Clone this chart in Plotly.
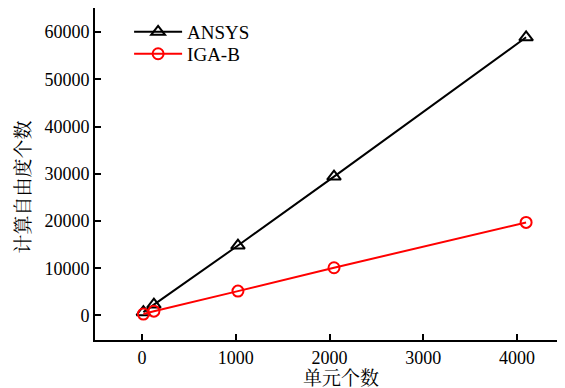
import plotly.graph_objects as go

elements = [16, 128, 1024, 2048, 4096]
ansys_dof = [700, 2300, 14800, 29400, 58900]
igab_dof = [300, 900, 5150, 10100, 19700]

x_ticks = [0, 1000, 2000, 3000, 4000]
y_ticks = [0, 10000, 20000, 30000, 40000, 50000, 60000]

serif = "Liberation Serif, Times New Roman, serif"
cjk = "Liberation Serif, Noto Serif CJK SC, Noto Sans CJK SC, serif"

fig = go.Figure()
fig.add_trace(go.Scatter(
    x=elements, y=ansys_dof, name="ANSYS", mode="lines+markers",
    line=dict(color="black", width=2),
    marker=dict(symbol="triangle-up-open", size=12, color="black", line=dict(width=2)),
    legend="legend",
))
fig.add_trace(go.Scatter(
    x=elements, y=igab_dof, name="IGA-B", mode="lines+markers",
    line=dict(color="#ff0000", width=2),
    marker=dict(symbol="circle-open", size=11, color="#ff0000", line=dict(width=2)),
    legend="legend2",
))

leg_common = dict(xanchor="left", yanchor="top", bgcolor="rgba(0,0,0,0)",
                  font=dict(size=19, family=serif), itemwidth=48)

fig.update_layout(
    width=557, height=380,
    margin=dict(l=87, r=1, t=0, b=48, autoexpand=False),
    paper_bgcolor="white", plot_bgcolor="white",
    font=dict(family=serif, size=18, color="black"),
    showlegend=True,
    legend=dict(x=0.0727, y=0.985, **leg_common),
    legend2=dict(x=0.0727, y=0.919, **leg_common),
    annotations=[
        dict(text="单元个数", xref="paper", yref="paper", x=0.5245, y=-0.1145,
             xanchor="center", yanchor="middle", showarrow=False,
             font=dict(family=cjk, size=19)),
        dict(text="计算自由度个数", xref="paper", yref="paper", x=-0.1525, y=0.461,
             xanchor="center", yanchor="middle", showarrow=False, textangle=-90,
             font=dict(family=cjk, size=19)),
    ],
)
fig.update_xaxes(
    range=[-500, 4500], tickvals=x_ticks, ticktext=[str(v) for v in x_ticks],
    ticks="inside", ticklen=6, tickwidth=1.5, tickcolor="black",
    showline=True, linecolor="black", linewidth=2, mirror=True,
    showgrid=False, zeroline=False, automargin=False,
)
fig.update_yaxes(
    range=[-5200, 65100], tickvals=y_ticks, ticktext=[str(v) for v in y_ticks],
    ticks="inside", ticklen=6, tickwidth=1.5, tickcolor="black",
    showline=True, linecolor="black", linewidth=2, mirror=True,
    showgrid=False, zeroline=False, automargin=False,
)

fig.write_html("out.html")
